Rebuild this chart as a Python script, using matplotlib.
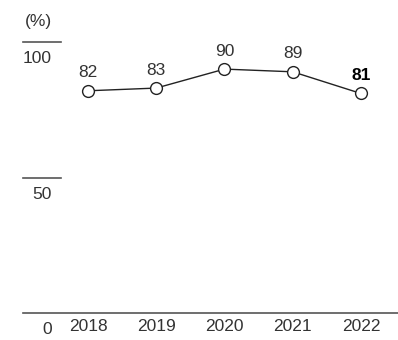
import matplotlib
matplotlib.use("Agg")
import matplotlib.pyplot as plt

plt.rcParams['font.family'] = ['Liberation Sans', 'DejaVu Sans']

years = ['2018', '2019', '2020', '2021', '2022']
values = [82, 83, 90, 89, 81]
y_ticks = [0, 50, 100]
unit_label = '(%)'

text_color = '#333333'
line_color = '#555555'
fs = 12.5

fig = plt.figure(figsize=(3.98, 3.4), dpi=100)
# axes placed so 0 sits on the baseline and 100 on the upper tick line
ax = fig.add_axes([23 / 398, 27 / 340, 375 / 398, 271 / 340])
ax.set_xlim(-0.952, 4.542)
ax.set_ylim(0, 100)
ax.axis('off')

x = list(range(len(years)))

# baseline and short tick lines
ax.plot([-0.952, 4.542], [0, 0], color=line_color, lw=1.2, clip_on=False)
for t in y_ticks[1:]:
    ax.plot([-0.952, -0.396], [t, t], color=line_color, lw=1.2, clip_on=False)

# y labels sit below their tick line
for t in y_ticks:
    ax.annotate(str(t), (-0.527, t), xytext=(0, -12), textcoords='offset points',
                ha='right', va='center', fontsize=fs, color=text_color)
ax.annotate(unit_label, (-0.527, 100), xytext=(0, 14.5), textcoords='offset points',
            ha='right', va='center', fontsize=fs, color=text_color)

# year labels
for xi, yr in zip(x, years):
    ax.annotate(yr, (xi, 0), xytext=(0, -10), textcoords='offset points',
                ha='center', va='center', fontsize=fs, color=text_color)

ax.plot(x, values, color='#222222', lw=1, marker='o', markersize=8.5,
        markerfacecolor='white', markeredgecolor='#222222', markeredgewidth=1,
        clip_on=False, zorder=3)

for i, (xi, v) in enumerate(zip(x, values)):
    last = i == len(values) - 1
    ax.annotate(str(v), (xi, v), xytext=(0, 13), textcoords='offset points',
                ha='center', va='center', fontsize=fs,
                color='black' if last else text_color,
                fontweight='bold' if last else 'normal')

fig.savefig('out.png', dpi=100)
